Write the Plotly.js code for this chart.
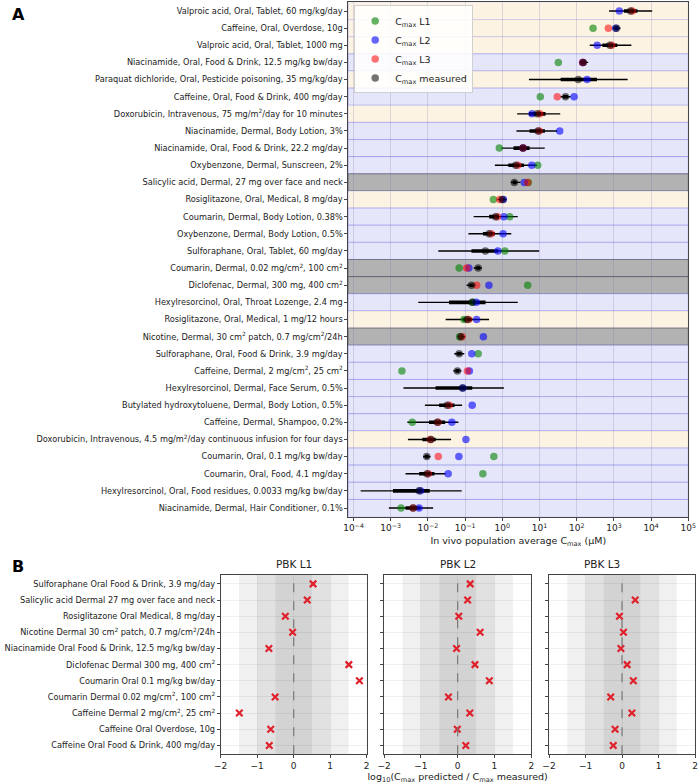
<!DOCTYPE html>
<html>
<head>
<meta charset="utf-8">
<script src="https://cdn.plot.ly/plotly-3.0.1.min.js"></script>
<style>html,body{margin:0;padding:0;background:#fff}#chart{width:700px;height:784px}</style>
</head>
<body>
<div id="chart"></div>
<script>
// ---- panel A data (µM) ----
const scenarios = [
  'Valproic acid, Oral, Tablet, 60 mg/kg/day',
  'Caffeine, Oral, Overdose, 10g',
  'Valproic acid, Oral, Tablet, 1000 mg',
  'Niacinamide, Oral, Food & Drink, 12.5 mg/kg bw/day',
  'Paraquat dichloride, Oral, Pesticide poisoning, 35 mg/kg/day',
  'Caffeine, Oral, Food & Drink, 400 mg/day',
  'Doxorubicin, Intravenous, 75 mg/m<sup>2</sup>/day for 10 minutes',
  'Niacinamide, Dermal, Body Lotion, 3%',
  'Niacinamide, Oral, Food & Drink, 22.2 mg/day',
  'Oxybenzone, Dermal, Sunscreen, 2%',
  'Salicylic acid, Dermal, 27 mg over face and neck',
  'Rosiglitazone, Oral, Medical, 8 mg/day',
  'Coumarin, Dermal, Body Lotion, 0.38%',
  'Oxybenzone, Dermal, Body Lotion, 0.5%',
  'Sulforaphane, Oral, Tablet, 60 mg/day',
  'Coumarin, Dermal, 0.02 mg/cm<sup>2</sup>, 100 cm<sup>2</sup>',
  'Diclofenac, Dermal, 300 mg, 400 cm<sup>2</sup>',
  'Hexylresorcinol, Oral, Throat Lozenge, 2.4 mg',
  'Rosiglitazone, Oral, Medical, 1 mg/12 hours',
  'Nicotine, Dermal, 30 cm<sup>2</sup> patch, 0.7 mg/cm<sup>2</sup>/24h',
  'Sulforaphane, Oral, Food & Drink, 3.9 mg/day',
  'Caffeine, Dermal, 2 mg/cm<sup>2</sup>, 25 cm<sup>2</sup>',
  'Hexylresorcinol, Dermal, Face Serum, 0.5%',
  'Butylated hydroxytoluene, Dermal, Body Lotion, 0.5%',
  'Caffeine, Dermal, Shampoo, 0.2%',
  'Doxorubicin, Intravenous, 4.5 mg/m<sup>2</sup>/day continuous infusion for four days',
  'Coumarin, Oral, 0.1 mg/kg bw/day',
  'Coumarin, Oral, Food, 4.1 mg/day',
  'Hexylresorcinol, Oral, Food residues, 0.0033 mg/kg bw/day',
  'Niacinamide, Dermal, Hair Conditioner, 0.1%'
];
// band group per row: Y = beige, L = lavender, G = grey
const rowGroup = ['Y','Y','Y','L','Y','L','Y','L','L','L','G','Y','L','L','L','G','G','L','Y','G',
                  'L','L','L','L','L','Y','L','L','L','L'];

const cmaxL1 = [null, 275, null, 32, null, 10.5, null, null, 0.83, 8.9, 5.0, 0.575, 1.58, null, 1.17,
                0.069, 4.8, 0.162, 0.093, 0.071, 0.224, 0.0020, null, null, 0.0038, null, 0.59, 0.30, null, 0.0019];
const cmaxL2 = [1400, 1120, 355, 145, 190, 85, 6.3, 35, 3.6, 6.2, 3.9, 1.07, 1.1, 1.05, 0.76,
                0.126, 0.436, 0.20, 0.204, 0.31, 0.151, 0.13, 0.087, 0.155, 0.044, 0.105, 0.068, 0.035, 0.0063, 0.0058];
const cmaxL3 = [3100, 710, 870, 145, null, 30, 10.2, 9.8, 3.6, 2.6, 4.8, 0.85, 0.74, 0.5, null,
                0.11, 0.204, null, 0.123, 0.083, null, 0.115, null, 0.037, 0.0186, 0.0117, 0.019, 0.0102, null, 0.004];
const cmaxMeasured = [2800, 1170, 780, 150, 110, 50, 8.7, 9.1, 3.6, 2.3, 2.1, 1.0, 0.66, 0.44, 0.35,
                      0.224, 0.148, 0.155, 0.115, 0.076, 0.069, 0.062, 0.085, 0.033, 0.018, 0.012, 0.0093, 0.0095, 0.0058, 0.004];
const measMin = [740, 910, 224, 115, 5.2, 37, 2.5, 2.4, 0.93, 0.63, 1.7, 0.74, 0.17, 0.123, 0.019,
                 0.17, 0.11, 0.0055, 0.030, 0.063, 0.051, 0.048, 0.0022, 0.0083, 0.0028, 0.0029, 0.0074, 0.0025, 0.000155, 0.00089];
const measMax = [10700, 1510, 2950, 204, 2340, 69, 36, 30, 13.8, 8.5, 3.1, 1.32, 2.6, 1.74, 9.8,
                 0.28, 0.19, 2.6, 0.44, 0.1, 0.095, 0.08, 1.1, 0.083, 0.066, 0.042, 0.0117, 0.030, 0.081, 0.0138];
const measQ1 = [1860, 1050, 490, 130, 37, 43, 5.2, 5.4, 2.0, 1.45, 1.9, 0.88, 0.44, 0.30, 0.148,
                0.2, 0.13, 0.037, 0.085, 0.069, 0.06, 0.055, 0.016, 0.020, 0.0107, 0.0071, 0.0082, 0.0058, 0.00115, 0.0025];
const measQ3 = [4300, 1300, 1230, 175, 350, 58, 14.5, 14, 5.4, 3.8, 2.4, 1.15, 0.81, 0.63, 0.78,
                0.25, 0.17, 0.355, 0.155, 0.085, 0.08, 0.07, 0.155, 0.052, 0.029, 0.0162, 0.0105, 0.015, 0.0112, 0.0063];
const decades = [-4, -3, -2, -1, 0, 1, 2, 3, 4, 5];

// ---- panel B data: log10(predicted / measured) ----
const pbkScenarios = [
  'Sulforaphane Oral Food & Drink, 3.9 mg/day',
  'Salicylic acid Dermal 27 mg over face and neck',
  'Rosiglitazone Oral Medical, 8 mg/day',
  'Nicotine Dermal 30 cm<sup>2</sup> patch, 0.7 mg/cm<sup>2</sup>/24h',
  'Niacinamide Oral Food & Drink, 12.5 mg/kg bw/day',
  'Diclofenac Dermal 300 mg, 400 cm<sup>2</sup>',
  'Coumarin Oral 0.1 mg/kg bw/day',
  'Coumarin Dermal 0.02 mg/cm<sup>2</sup>, 100 cm<sup>2</sup>',
  'Caffeine Dermal 2 mg/cm<sup>2</sup>, 25 cm<sup>2</sup>',
  'Caffeine Oral Overdose, 10g',
  'Caffeine Oral Food & Drink, 400 mg/day'
];
const ratioL1 = [0.53, 0.37, -0.23, -0.03, -0.68, 1.51, 1.80, -0.51, -1.49, -0.63, -0.67];
const ratioL2 = [0.34, 0.27, 0.03, 0.61, -0.03, 0.47, 0.86, -0.25, 0.33, -0.01, 0.22];
const ratioL3 = [null, 0.36, -0.07, 0.04, -0.03, 0.14, 0.31, -0.31, 0.27, -0.19, -0.24];
const pbkTitles = ['PBK L1', 'PBK L2', 'PBK L3'];

const FONT = 'DejaVu Sans, sans-serif';
const rowIdx = scenarios.map((_, i) => i);
const pbkIdx = pbkScenarios.map((_, i) => i);

const BAND = {
  Y: { fill: '#fdf3e2', line: 'rgba(120,120,230,0.25)' },
  L: { fill: '#e6e6fa', line: 'rgba(120,120,230,0.45)' },
  G: { fill: '#b2b2b2', line: 'rgba(70,70,90,0.6)' }
};

function errTrace(lo, hi, thick) {
  return {
    x: cmaxMeasured, y: rowIdx, type: 'scatter', mode: 'markers',
    marker: { size: 2, opacity: 0 }, showlegend: false, hoverinfo: 'skip',
    error_x: {
      type: 'data', symmetric: false,
      array: hi.map((h, i) => h - cmaxMeasured[i]),
      arrayminus: lo.map((l, i) => cmaxMeasured[i] - l),
      color: '#000', thickness: thick, width: 0
    }
  };
}
function dots(x, color, name) {
  return {
    x, y: rowIdx, type: 'scatter', mode: 'markers', name,
    marker: { size: 7.5, color }, hoverinfo: 'x+name'
  };
}

const traces = [
  errTrace(measMin, measMax, 1.4),
  errTrace(measQ1, measQ3, 3.6),
  dots(cmaxL1, 'rgba(0,128,0,0.6)', 'C<sub>max</sub> L1'),
  dots(cmaxL2, 'rgba(0,0,255,0.6)', 'C<sub>max</sub> L2'),
  dots(cmaxL3, 'rgba(255,0,0,0.55)', 'C<sub>max</sub> L3'),
  dots(cmaxMeasured, 'rgba(0,0,0,0.55)', 'C<sub>max</sub> measured')
];

[ratioL1, ratioL2, ratioL3].forEach((r, k) => {
  traces.push({
    x: r, y: pbkIdx, type: 'scatter', mode: 'markers', showlegend: false,
    xaxis: 'x' + (k + 2), yaxis: 'y' + (k + 2),
    marker: { symbol: 'x-thin', size: 6.5, color: '#e0202a', line: { width: 2.2, color: '#e0202a' } }
  });
});

const shapes = rowGroup.map((g, i) => ({
  type: 'rect', xref: 'x domain', yref: 'y', x0: 0, x1: 1, y0: i - 0.5, y1: i + 0.5,
  fillcolor: BAND[g].fill, line: { color: BAND[g].line, width: 1 }, layer: 'below'
}));
const xDomains = [[0.3153, 0.5239], [0.5486, 0.759], [0.7843, 0.9929]];
[2, 3, 4].forEach((n) => {
  [1.5, 1, 0.5].forEach((w) => shapes.push({
    type: 'rect', xref: 'x' + n, yref: 'y' + n + ' domain', x0: -w, x1: w, y0: 0, y1: 1,
    fillcolor: 'rgba(0,0,0,0.06)', line: { width: 0 }, layer: 'below'
  }));
  shapes.push({
    type: 'line', xref: 'x' + n, yref: 'y' + n + ' domain', x0: 0, x1: 0, y0: 0, y1: 1,
    line: { color: '#777', width: 1.2, dash: 'dash' }
  });
});

const annotations = [
  { text: '<b>A</b>', x: 0.014, y: 0.982, xref: 'paper', yref: 'paper', showarrow: false, xanchor: 'left', yanchor: 'middle', font: { size: 16, family: FONT, color: '#000' } },
  { text: '<b>B</b>', x: 0.014, y: 0.278, xref: 'paper', yref: 'paper', showarrow: false, xanchor: 'left', yanchor: 'middle', font: { size: 16, family: FONT, color: '#000' } }
];
pbkTitles.forEach((t, k) => annotations.push({
  text: t, x: (xDomains[k][0] + xDomains[k][1]) / 2, y: 0.2666, xref: 'paper', yref: 'paper',
  yanchor: 'bottom', yshift: 3, showarrow: false, font: { size: 10.5, family: FONT, color: '#222' }
}));

const tickFont = { size: 8.2, family: FONT, color: '#222' };
const frame = { showline: true, mirror: true, linecolor: '#444', linewidth: 1, zeroline: false };

const layout = {
  width: 700, height: 784, paper_bgcolor: '#fff', plot_bgcolor: '#fff',
  margin: { l: 0, r: 0, t: 0, b: 0 },
  font: { family: FONT, color: '#222' },
  showlegend: true,
  legend: {
    x: 0.506, y: 0.993, xanchor: 'left', yanchor: 'top',
    bgcolor: 'rgba(255,255,255,0.85)', bordercolor: '#d0d0d0', borderwidth: 1,
    font: { size: 9.5, family: FONT, color: '#222' }, itemwidth: 30
  },
  xaxis: Object.assign({
    type: 'log', domain: [0.4976, 0.9833], anchor: 'y', range: [-4.14, 5],
    tickvals: decades.map((d) => Math.pow(10, d)),
    ticktext: decades.map((d) => '10<sup>' + (d < 0 ? '\u2212' : '') + Math.abs(d) + '</sup>'),
    ticks: 'outside', ticklen: 3, tickcolor: '#444', tickfont: { size: 9, family: FONT, color: '#222' },
    showgrid: true, gridcolor: 'rgba(110,110,170,0.22)', gridwidth: 1,
    title: { text: 'In vivo population average C<sub>max</sub> (μM)', font: { size: 9.5, family: FONT, color: '#222' }, standoff: 4 }
  }, frame),
  yaxis: Object.assign({
    domain: [0.3411, 0.9969], anchor: 'x', range: [29.5, -0.5],
    tickvals: rowIdx, ticktext: scenarios, ticks: 'outside', ticklen: 3, tickcolor: '#444',
    tickfont: tickFont, showgrid: false
  }, frame),
  shapes, annotations
};

[2, 3, 4].forEach((n, k) => {
  layout['xaxis' + n] = Object.assign({
    domain: xDomains[k], anchor: 'y' + n, range: [-2, 2], tickvals: [-2, -1, 0, 1, 2],
    ticks: 'outside', ticklen: 3, tickcolor: '#444', tickfont: { size: 9, family: FONT, color: '#222' },
    showgrid: true, gridcolor: 'rgba(0,0,0,0.05)'
  }, frame);
  layout['yaxis' + n] = Object.assign({
    domain: [0.0379, 0.2666], anchor: 'x' + n, range: [10.55, -0.55],
    tickvals: pbkIdx, ticktext: pbkScenarios, showticklabels: k === 0,
    ticks: 'outside', ticklen: 3, tickcolor: '#444', tickfont: tickFont,
    showgrid: true, gridcolor: 'rgba(0,0,0,0.06)'
  }, frame);
});
layout.xaxis3.title = {
  text: 'log<sub>10</sub>(C<sub>max</sub> predicted / C<sub>max</sub> measured)',
  font: { size: 9.5, family: FONT, color: '#222' }, standoff: 4
};

Plotly.newPlot('chart', traces, layout, { displayModeBar: false, staticPlot: true });
</script>
</body>
</html>
